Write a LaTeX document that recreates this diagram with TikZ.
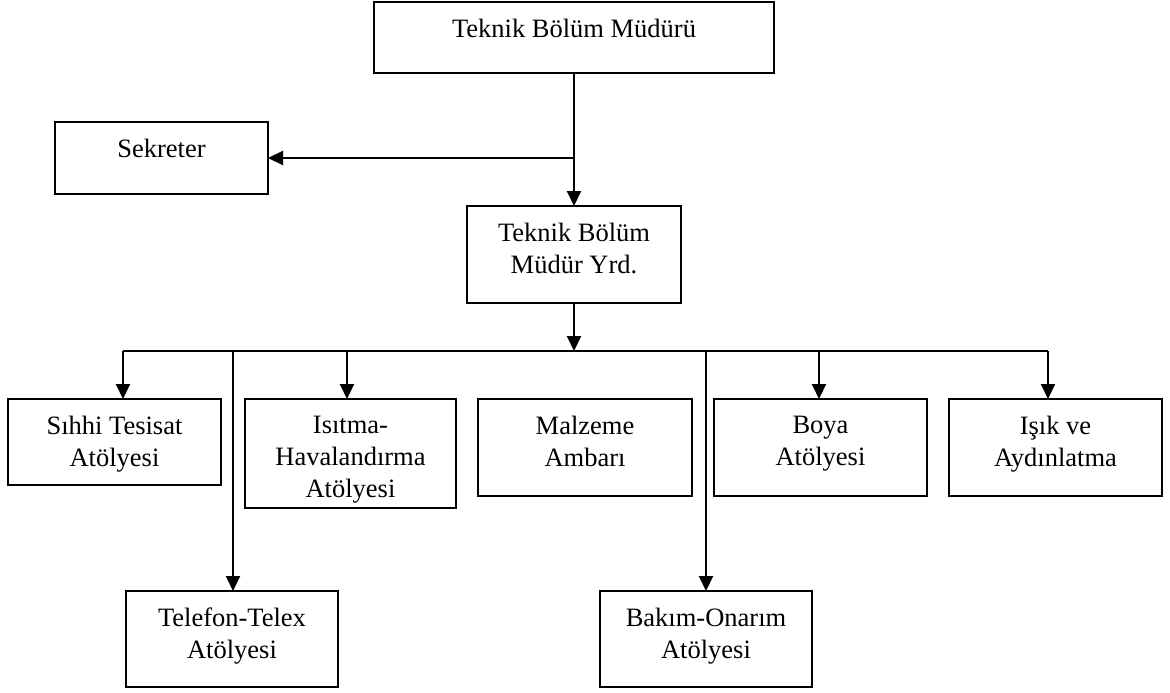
\documentclass[tikz,border=0pt]{standalone}
\usepackage{fontspec}
\setmainfont{Liberation Serif}
\usetikzlibrary{arrows.meta}

% A framed unit: the empty frame (#1) and its caption (#1-t) set near the top
\newcommand\orgunit[6]{%
  \node[unitbox, minimum width=#4pt, minimum height=#5pt] (#1) at (#2,#3) {};
  \node[unitlbl] (#1-t) at ([yshift=-17pt]#1.north) {#6};
}

\begin{document}
\begin{tikzpicture}[x=1pt,y=-1pt,
  unitbox/.style={draw, line width=2pt, rectangle, inner sep=0pt, outer sep=0pt, anchor=north west},
  unitlbl/.style={anchor=north, inner sep=0pt, align=center,
                  font=\fontsize{26.5}{31.8}\selectfont},
  wire/.style={line width=2pt},
  arr/.style={wire, -{Triangle[width=14pt,length=15pt]}}]
\useasboundingbox (0,0) rectangle (1170,693);

% management
\orgunit{mgr}{374}{2}{400}{71}{Teknik Bölüm Müdürü}
\orgunit{sek}{55}{122}{213}{72}{Sekreter}
\orgunit{yrd}{467}{206}{214}{97}{Teknik Bölüm\\Müdür Yrd.}

% workshops, upper row
\orgunit{sihhi}{8}{399}{213}{86}{Sıhhi Tesisat\\Atölyesi}
\orgunit{isitma}{245}{399}{211}{109}{Isıtma-\\Havalandırma\\Atölyesi}
\orgunit{malz}{478}{399}{214}{97}{Malzeme\\Ambarı}
\orgunit{boya}{714}{399}{213}{97}{Boya\\Atölyesi}
\orgunit{isik}{949}{399}{213}{97}{Işık ve\\Aydınlatma}

% workshops, lower row
\orgunit{tel}{126}{591}{212}{96}{Telefon-Telex\\Atölyesi}
\orgunit{bakim}{600}{591}{212}{96}{Bakım-Onarım\\Atölyesi}

% distribution bus and its drop points
\coordinate (bus-l) at (123,351);
\coordinate (bus-r) at (1048,351);
\coordinate (drop-isitma) at (347,351);
\coordinate (drop-tel) at (233,351);
\coordinate (drop-bakim) at (706,351);
\coordinate (drop-boya) at (819,351);

\draw[arr] (mgr.south) -- (yrd.north);
\draw[arr] (mgr.south |- sek.east) -- (sek.east);
\draw[arr] (yrd.south) -- (yrd.south |- bus-l);
\draw[wire] (bus-l) -- (bus-r);

\draw[arr] (bus-l) -- (bus-l |- sihhi.north);
\draw[arr] (drop-isitma) -- (drop-isitma |- isitma.north);
\draw[arr] (drop-boya) -- (drop-boya |- boya.north);
\draw[arr] (bus-r) -- (bus-r |- isik.north);
\draw[arr] (drop-tel) -- (drop-tel |- tel.north);
\draw[arr] (drop-bakim) -- (drop-bakim |- bakim.north);
\end{tikzpicture}
\end{document}
